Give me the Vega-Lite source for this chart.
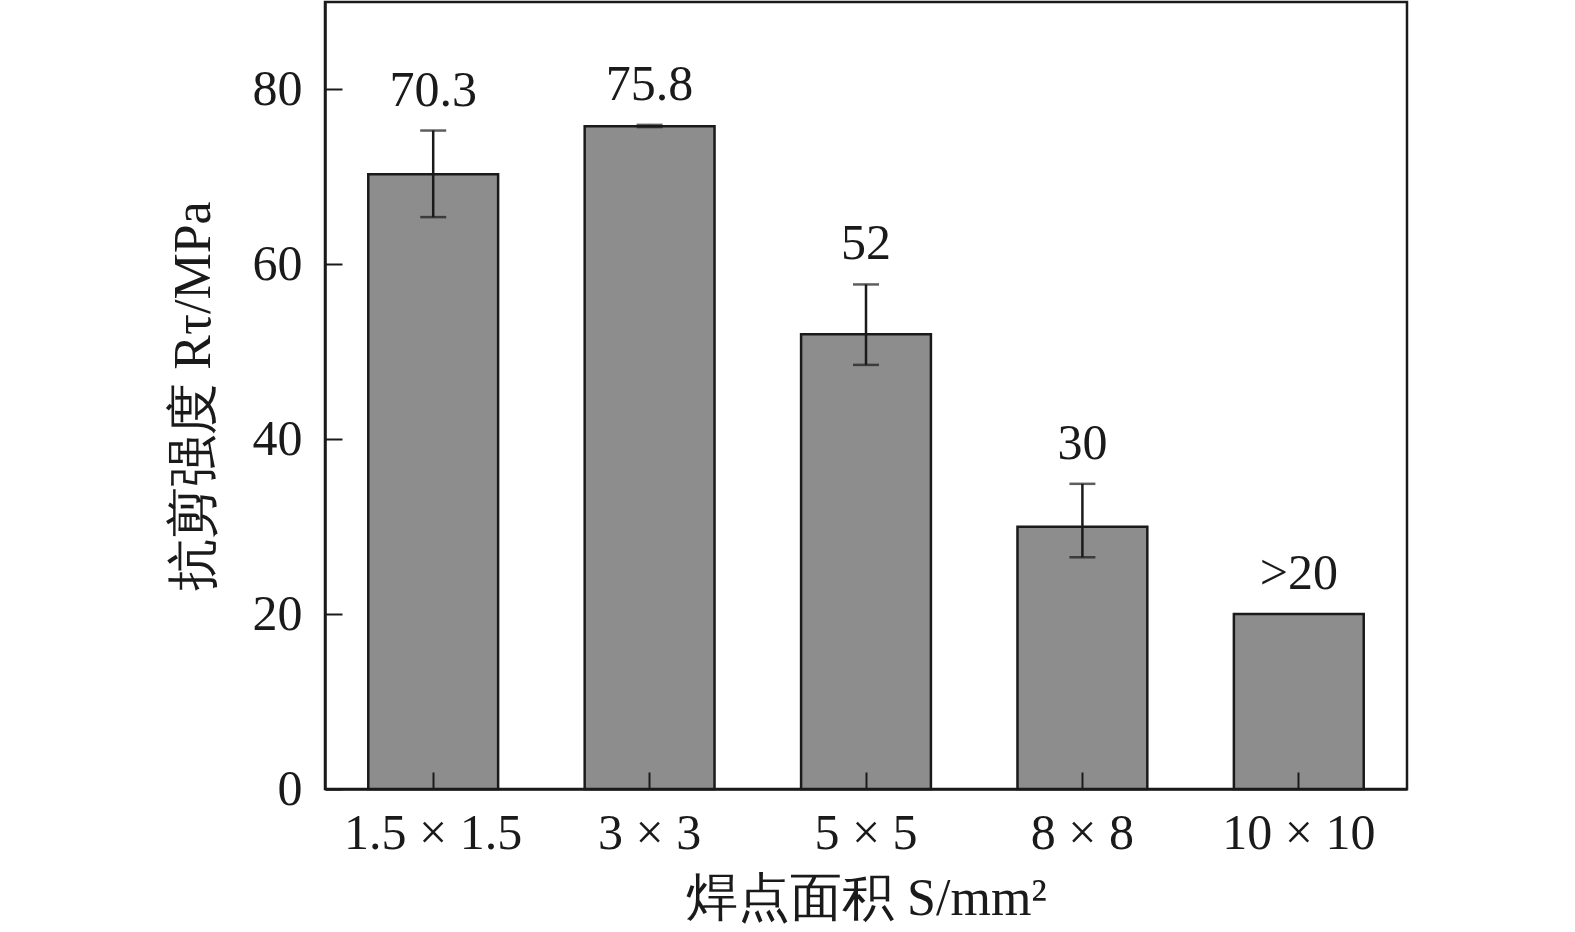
{
  "$schema": "https://vega.github.io/schema/vega-lite/v6.json",
  "autosize": "none",
  "padding": {"left": 325, "top": 2, "right": 168, "bottom": 143},
  "width": 1082,
  "height": 787,
  "background": "white",
  "config": {
    "view": {"stroke": "#1a1a1a", "strokeWidth": 2.5},
    "font": "Liberation Serif",
    "axis": {
      "domainColor": "#1a1a1a",
      "domainWidth": 2.5,
      "tickColor": "#1a1a1a",
      "tickWidth": 2,
      "tickSize": -17,
      "labelFont": "Liberation Serif",
      "labelFontSize": 50,
      "labelColor": "#1a1a1a",
      "titleFont": "Liberation Serif",
      "titleFontSize": 52,
      "titleFontWeight": "normal",
      "titleColor": "#1a1a1a",
      "grid": false
    }
  },
  "data": {
    "values": [
      {"S": "1.5 × 1.5", "R": 70.3, "lo": 65.4, "hi": 75.3, "label": "70.3"},
      {"S": "3 × 3", "R": 75.8, "lo": 75.7, "hi": 75.95, "label": "75.8"},
      {"S": "5 × 5", "R": 52, "lo": 48.5, "hi": 57.7, "label": "52"},
      {"S": "8 × 8", "R": 30, "lo": 26.5, "hi": 34.9, "label": "30"},
      {"S": "10 × 10", "R": 20, "lo": 20, "hi": 20, "label": ">20"}
    ]
  },
  "encoding": {
    "x": {
      "field": "S",
      "type": "nominal",
      "sort": null,
      "scale": {"paddingInner": 0.4, "paddingOuter": 0.2},
      "axis": {"labelAngle": 0, "labelPadding": 36, "title": "焊点面积 S/mm²", "titlePadding": 15, "zindex": 2}
    }
  },
  "layer": [
    {
      "mark": {"type": "bar", "fill": "#8e8d8e", "stroke": "#1a1a1a", "strokeWidth": 2.5},
      "encoding": {
        "y": {
          "field": "R",
          "type": "quantitative",
          "scale": {"domain": [0, 90], "nice": false},
          "axis": {"values": [0, 20, 40, 60, 80], "labelPadding": 40, "title": "抗剪强度 Rτ/MPa", "titlePadding": 32, "zindex": 2}
        }
      }
    },
    {
      "transform": [{"filter": "datum.hi > datum.lo"}],
      "mark": {"type": "rule", "color": "#1a1a1a", "strokeWidth": 2.5},
      "encoding": {
        "y": {"field": "lo", "type": "quantitative"},
        "y2": {"field": "hi"}
      }
    },
    {
      "transform": [{"filter": "datum.hi > datum.lo"}],
      "mark": {"type": "tick", "color": "#1a1a1a", "thickness": 2.5, "size": 26, "orient": "horizontal"},
      "encoding": {"y": {"field": "lo", "type": "quantitative"}}
    },
    {
      "transform": [{"filter": "datum.hi > datum.lo"}],
      "mark": {"type": "tick", "color": "#1a1a1a", "thickness": 2.5, "size": 26, "orient": "horizontal"},
      "encoding": {"y": {"field": "hi", "type": "quantitative"}}
    },
    {
      "mark": {"type": "text", "font": "Liberation Serif", "fontSize": 50, "color": "#1a1a1a", "baseline": "alphabetic", "dy": -25},
      "encoding": {
        "y": {"field": "hi", "type": "quantitative"},
        "text": {"field": "label"}
      }
    }
  ]
}
